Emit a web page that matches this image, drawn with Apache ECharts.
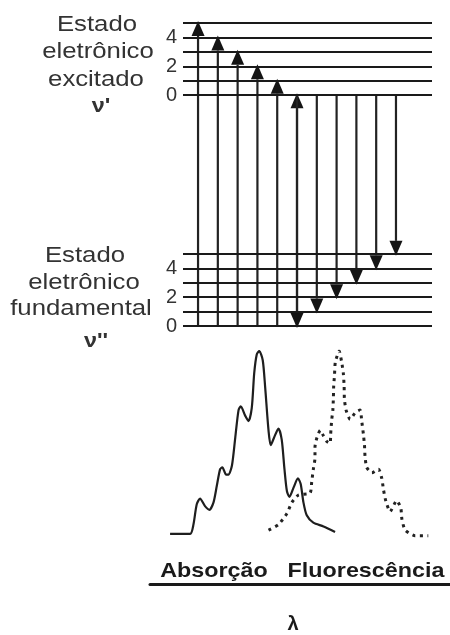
<!DOCTYPE html>
<html><head><meta charset="utf-8">
<script src="https://cdn.jsdelivr.net/npm/echarts@6/dist/echarts.min.js"></script>
<style>html,body{margin:0;padding:0;background:#fff}#c{width:450px;height:635px}</style>
</head><body><div id="c"></div>
<script>
// ---- energy-level diagram data ----
const vibLevels = [0, 1, 2, 3, 4, 5];          // vibrational quantum numbers per electronic state
const labeledLevels = [0, 2, 4];               // levels that carry a number label
const excitedOffset = 16;                      // v'=0 lies 16 level-spacings above v''=0
const absorptionTargets = [5, 4, 3, 2, 1, 0];  // v' reached from v''=0 (arrows left to right)
const emissionTargets = [0, 1, 2, 3, 4, 5];    // v'' reached from v'=0 (arrows left to right)
const excitedLabel = ['Estado', 'eletrônico', 'excitado'];
const groundLabel = ['Estado', 'eletrônico', 'fundamental'];
const excitedSymbol = "ν'";
const groundSymbol = "ν''";

// ---- spectra (wavelength in arbitrary units, normalised intensity) ----
const absorptionWl = [1.8, 9.1, 10.3, 11.5, 12.7, 14.5, 16.1, 17.6, 18.8, 20.0, 20.8, 22.2, 23.0, 24.3, 25.5, 26.7, 27.5, 29.1, 30.3, 31.5, 32.4, 33.3, 34.2, 35.5, 36.4, 37.6, 38.4, 39.6, 41.2, 42.4, 43.4, 44.3, 45.2, 46.7, 48.3, 49.3, 50.3, 51.5, 53.9, 57.6, 61.8];
const absorptionInt = [0.01, 0.01, 0.06, 0.17, 0.20, 0.16, 0.14, 0.18, 0.27, 0.36, 0.37, 0.33, 0.33, 0.38, 0.53, 0.68, 0.70, 0.65, 0.62, 0.69, 0.88, 0.98, 1.00, 0.95, 0.80, 0.57, 0.49, 0.53, 0.58, 0.52, 0.36, 0.24, 0.21, 0.26, 0.31, 0.28, 0.18, 0.11, 0.07, 0.05, 0.02];
const fluorescenceWl = [37.6, 41.2, 44.3, 46.1, 48.5, 52.7, 53.3, 53.9, 54.5, 54.5, 55.2, 56.4, 57.6, 58.8, 60.0, 60.2, 60.6, 61.0, 61.2, 61.3, 61.6, 61.9, 63.3, 64.2, 64.8, 65.1, 65.2, 65.8, 67.3, 69.1, 70.9, 71.5, 72.1, 72.5, 72.7, 73.3, 75.2, 77.6, 78.8, 79.4, 80.3, 81.8, 84.2, 85.7, 86.1, 87.3, 90.9, 95.7];
const fluorescenceInt = [0.03, 0.06, 0.12, 0.18, 0.22, 0.23, 0.29, 0.36, 0.42, 0.48, 0.53, 0.57, 0.54, 0.51, 0.50, 0.55, 0.63, 0.68, 0.75, 0.81, 0.87, 0.94, 1.00, 0.94, 0.88, 0.81, 0.74, 0.68, 0.63, 0.665, 0.68, 0.62, 0.55, 0.49, 0.43, 0.37, 0.34, 0.36, 0.31, 0.25, 0.185, 0.13, 0.19, 0.15, 0.09, 0.03, 0.0, 0.0];
const bandLabels = ['Absorção', 'Fluorescência'];
const wavelengthName = 'λ';

// ---- build series data from the arrays ----
const groundY = vibLevels.map(v => v);
const excitedY = vibLevels.map(v => v + excitedOffset);
const arrows = [];
absorptionTargets.forEach((v, i) => arrows.push([i, 0, v + excitedOffset]));
emissionTargets.forEach((v, i) => arrows.push([absorptionTargets.length - 1 + i, excitedOffset, v]));
const labelMap = {};
labeledLevels.forEach(v => { labelMap[v] = String(v); labelMap[v + excitedOffset] = String(v); });
const absData = absorptionWl.map((w, i) => [w, absorptionInt[i]]);
const fluData = fluorescenceWl.map((w, i) => [w, fluorescenceInt[i]]);

const LINE = '#1a1a1a';
const TEXT = '#333';

function renderArrow(params, api) {
  const p0 = api.coord([api.value(0), api.value(1)]);
  const p1 = api.coord([api.value(0), api.value(2)]);
  const dir = p1[1] > p0[1] ? 1 : -1;
  const tipY = p1[1] + dir * 2;
  const baseY = tipY - dir * 15;
  const x = p0[0];
  return {
    type: 'group',
    children: [
      { type: 'line', shape: { x1: x, y1: p0[1], x2: x, y2: baseY }, style: { stroke: '#222', lineWidth: 2.2 } },
      { type: 'polygon', shape: { points: [[x, tipY], [x - 6.5, baseY], [x + 6.5, baseY]] }, style: { fill: '#141414' } }
    ]
  };
}

function textEl(text, x, y, opts) {
  return Object.assign({
    type: 'text', x: x, y: y, scaleX: 1.17,
    style: { text: text, fill: TEXT, font: '22px "Liberation Sans", Arial, sans-serif', textAlign: 'center', textVerticalAlign: 'middle' }
  }, opts || {});
}

const graphics = [];
const exPos = [[97, 25], [98, 52], [96, 80]];
excitedLabel.forEach((t, i) => graphics.push(textEl(t, exPos[i][0], exPos[i][1])));
graphics.push(textEl(excitedSymbol, 101, 106, { style: { text: excitedSymbol, fill: TEXT, font: 'bold 20px "Liberation Sans", Arial, sans-serif', textAlign: 'center', textVerticalAlign: 'middle' } }));
const grPos = [[85, 256], [84, 283], [81, 309]];
groundLabel.forEach((t, i) => graphics.push(textEl(t, grPos[i][0], grPos[i][1])));
graphics.push(textEl(groundSymbol, 96, 341, { style: { text: groundSymbol, fill: TEXT, font: 'bold 20px "Liberation Sans", Arial, sans-serif', textAlign: 'center', textVerticalAlign: 'middle' } }));
const bandPos = [[214, 571], [366, 571]];
bandLabels.forEach((t, i) => graphics.push({
  type: 'text', x: bandPos[i][0], y: bandPos[i][1], scaleX: 1.11,
  style: { text: t, fill: '#1a1a1a', font: 'bold 21px "Liberation Sans", Arial, sans-serif', textAlign: 'center', textVerticalAlign: 'middle' }
}));

const chart = echarts.init(document.getElementById('c'), null, { renderer: 'canvas' });
chart.setOption({
  animation: false,
  backgroundColor: '#fff',
  grid: [
    { left: 183, right: 18, top: 23, bottom: 309 },
    { left: 150, right: 0, top: 351, bottom: 43 }
  ],
  xAxis: [
    { gridIndex: 0, type: 'value', min: -0.76, max: 11.82, show: false },
    { gridIndex: 1, type: 'value', min: -5.5, max: 103.6,
      axisLine: { show: true, onZero: false, lineStyle: { color: LINE, width: 3 } },
      axisTick: { show: false }, axisLabel: { show: false }, splitLine: { show: false },
      name: wavelengthName, nameLocation: 'middle', nameGap: 30,
      nameTextStyle: { color: '#1a1a1a', fontSize: 20, fontWeight: 'bold', fontFamily: 'Liberation Sans', padding: [0, 14, 0, 0] } }
  ],
  yAxis: [
    { gridIndex: 0, type: 'value', min: 0, max: 21, interval: 1,
      axisLine: { show: false }, axisTick: { show: false }, splitLine: { show: false },
      axisLabel: { show: true, interval: 0, margin: 6, color: TEXT, fontSize: 20, fontFamily: 'Liberation Sans',
        formatter: v => labelMap[v] !== undefined ? labelMap[v] : '' } },
    { gridIndex: 1, type: 'value', min: -0.262, max: 1.0, show: false }
  ],
  graphic: graphics,
  series: [
    {
      type: 'custom', xAxisIndex: 0, yAxisIndex: 0,
      renderItem: renderArrow, data: arrows, silent: true,
      markLine: {
        silent: true, symbol: ['none', 'none'], label: { show: false },
        lineStyle: { color: LINE, width: 2.2, type: 'solid' },
        data: groundY.concat(excitedY).map(y => ({ yAxis: y }))
      }
    },
    {
      type: 'line', xAxisIndex: 1, yAxisIndex: 1, data: absData, showSymbol: false, smooth: 0.25,
      lineStyle: { color: '#1e1e1e', width: 2.2 }
    },
    {
      type: 'line', xAxisIndex: 1, yAxisIndex: 1, data: fluData, showSymbol: false, smooth: 0.2,
      lineStyle: { color: '#222', width: 3, type: [3, 4.5] }
    }
  ]
});
</script>
</body></html>
